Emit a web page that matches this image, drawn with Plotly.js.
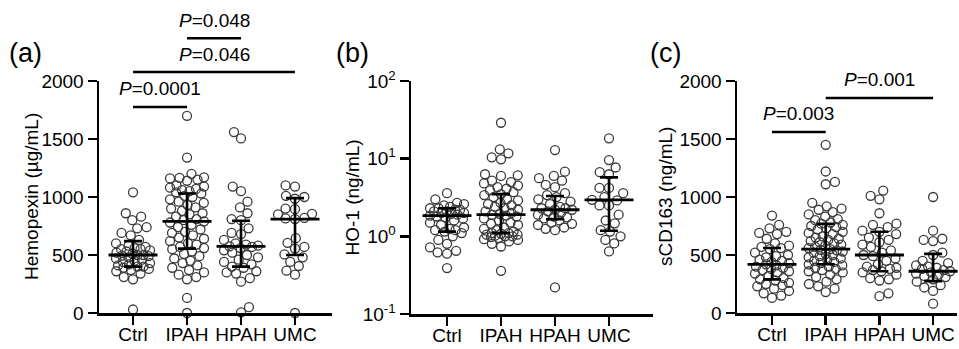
<!DOCTYPE html>
<html>
<head>
<meta charset="utf-8">
<script src="https://cdn.plot.ly/plotly-3.0.1.min.js"></script>
<style>html,body{margin:0;padding:0;background:#fff}#chart{width:959px;height:349px}</style>
</head>
<body>
<div id="chart"></div>
<script>
// ---------- DATA ----------
const categories = ['Ctrl', 'IPAH', 'HPAH', 'UMC'];

// (a) Hemopexin (µg/mL)
const hpxCtrl = [1040, 860, 830, 800, 740, 730, 690, 670, 630, 600, 580, 570, 560, 550, 550, 540, 530, 520, 510, 500, 500, 495, 490, 480, 470, 460, 450, 440, 430, 420, 410, 400, 400, 390, 380, 370, 360, 340, 310, 290, 30];
const hpxIPAH = [1700, 1340, 1200, 1170, 1165, 1160, 1150, 1140, 1100, 1090, 1080, 1070, 1060, 1050, 1040, 1030, 1010, 1000, 980, 960, 950, 930, 910, 900, 880, 860, 850, 830, 810, 800, 790, 780, 760, 740, 720, 700, 690, 670, 650, 640, 620, 600, 590, 570, 560, 550, 530, 510, 490, 470, 450, 430, 410, 390, 370, 350, 330, 310, 290, 130, 0];
const hpxHPAH = [1560, 1505, 1090, 1050, 960, 910, 860, 810, 800, 730, 690, 680, 630, 600, 590, 580, 575, 570, 560, 540, 520, 500, 480, 460, 440, 420, 400, 390, 360, 350, 340, 300, 270, 50, 5];
const hpxUMC = [1100, 1090, 1010, 1000, 985, 900, 895, 855, 850, 820, 815, 810, 645, 605, 570, 555, 505, 480, 440, 405, 365, 330, 0];
const hpxMedian = [500, 790, 575, 810];
const hpxQ1 = [400, 555, 400, 500];
const hpxQ3 = [620, 1030, 795, 990];
const hpxTicks = [0, 500, 1000, 1500, 2000];
const hpxSigPairs = [['Ctrl', 'IPAH'], ['Ctrl', 'UMC'], ['IPAH', 'HPAH']];
const hpxSigP = ['0.0001', '0.046', '0.048'];
const hpxSigLevel = [1776, 2077, 2368];

// (b) HO-1 (ng/mL)
const hoCtrl = [3.6, 3.0, 2.7, 2.6, 2.5, 2.4, 2.3, 2.3, 2.2, 2.2, 2.1, 2.1, 2.0, 2.0, 1.95, 1.9, 1.85, 1.8, 1.75, 1.7, 1.6, 1.5, 1.4, 1.3, 1.25, 1.2, 1.2, 1.15, 1.1, 1.0, 0.9, 0.8, 0.72, 0.65, 0.62, 0.6, 0.39];
const hoIPAH = [29, 13.2, 11.7, 10.4, 9.8, 6.3, 6.1, 6.0, 5.2, 5.0, 4.8, 4.5, 4.3, 4.1, 3.9, 3.7, 3.5, 3.4, 3.2, 3.0, 2.9, 2.7, 2.6, 2.5, 2.4, 2.3, 2.2, 2.1, 2.0, 1.95, 1.9, 1.85, 1.8, 1.7, 1.6, 1.5, 1.45, 1.4, 1.3, 1.25, 1.2, 1.15, 1.1, 1.1, 1.08, 1.05, 1.05, 1.02, 1.0, 1.0, 0.98, 0.95, 0.92, 0.9, 0.86, 0.8, 0.74, 0.36];
const hoHPAH = [12.9, 6.8, 6.0, 5.6, 5.2, 4.6, 4.3, 3.6, 3.4, 3.2, 3.0, 2.8, 2.6, 2.4, 2.3, 2.3, 2.2, 2.2, 2.1, 2.0, 1.9, 1.8, 1.75, 1.7, 1.6, 1.5, 1.45, 1.4, 1.3, 1.25, 1.2, 0.22];
const hoUMC = [18.3, 9.6, 7.7, 6.7, 6.3, 4.2, 4.2, 3.6, 3.2, 2.95, 2.9, 2.5, 2.5, 1.9, 1.6, 1.47, 1.2, 1.15, 1.0, 0.9, 0.81, 0.64];
const hoMedian = [1.85, 1.9, 2.2, 2.95];
const hoQ1 = [1.15, 1.1, 1.66, 1.18];
const hoQ3 = [2.3, 3.5, 3.3, 5.75];
const hoTicks = [0.1, 1, 10, 100];
const hoTickText = ['10<sup>-1</sup>', '10<sup>0</sup>', '10<sup>1</sup>', '10<sup>2</sup>'];

// (c) sCD163 (ng/mL)
const cdCtrl = [840, 760, 730, 700, 690, 680, 640, 600, 580, 570, 560, 550, 520, 500, 490, 480, 460, 450, 440, 430, 420, 410, 400, 390, 380, 370, 360, 350, 340, 320, 300, 290, 280, 260, 250, 240, 230, 210, 190, 170, 150, 130];
const cdIPAH = [1450, 1220, 1130, 1110, 950, 920, 900, 890, 870, 850, 830, 810, 800, 780, 770, 760, 750, 740, 730, 720, 700, 690, 680, 660, 650, 640, 630, 620, 610, 600, 590, 580, 570, 560, 550, 545, 540, 530, 520, 510, 500, 490, 480, 470, 460, 450, 440, 430, 420, 410, 400, 390, 380, 370, 360, 350, 330, 310, 290, 270, 250, 230, 210, 180];
const cdHPAH = [1055, 1010, 980, 860, 770, 760, 740, 710, 700, 680, 650, 630, 610, 590, 570, 540, 520, 500, 490, 470, 450, 420, 400, 390, 380, 370, 360, 350, 330, 300, 290, 280, 170, 145];
const cdUMC = [1000, 710, 640, 630, 620, 520, 500, 450, 430, 410, 400, 390, 380, 370, 360, 350, 340, 330, 320, 310, 290, 270, 240, 220, 190, 80];
const cdMedian = [420, 550, 500, 360];
const cdQ1 = [290, 420, 360, 275];
const cdQ3 = [560, 770, 700, 510];
const cdTicks = [0, 500, 1000, 1500, 2000];
const cdSigPairs = [['Ctrl', 'IPAH'], ['IPAH', 'UMC']];
const cdSigP = ['0.003', '0.001'];
const cdSigLevel = [1561, 1854];

// ---------- LAYOUT GEOMETRY ----------
const W = 959, H = 349;
const FONT = 'Arial, "Liberation Sans", Helvetica, sans-serif';
const MARKER_COLOR = '#3a3a3a';
const DOT = 9.5;   // preferred min centre distance (px)
const CAP = 17;    // max half-width of a swarm (px)

const panels = [
  { label: '(a)', labelX: 25, title: 'Hemopexin (µg/mL)', titleX: 31,
    px: [99, 332], py: [81, 313], xr: [-0.63, 3.685], type: 'linear', yr: [0, 2000],
    groups: [hpxCtrl, hpxIPAH, hpxHPAH, hpxUMC], med: hpxMedian, q1: hpxQ1, q3: hpxQ3,
    ticks: hpxTicks, tickText: null, sig: { pairs: hpxSigPairs, p: hpxSigP, lvl: hpxSigLevel } },
  { label: '(b)', labelX: 352, title: 'HO-1 (ng/mL)', titleX: 352,
    px: [411, 653], py: [81, 314], xr: [-0.667, 3.815], type: 'log', yr: [-1, 2],
    groups: [hoCtrl, hoIPAH, hoHPAH, hoUMC], med: hoMedian, q1: hoQ1, q3: hoQ3,
    ticks: hoTicks, tickText: hoTickText, sig: null },
  { label: '(c)', labelX: 665, title: 'sCD163 (ng/mL)', titleX: 665,
    px: [737, 957], py: [81, 313], xr: [-0.652, 3.445], type: 'linear', yr: [0, 2000],
    groups: [cdCtrl, cdIPAH, cdHPAH, cdUMC], med: cdMedian, q1: cdQ1, q3: cdQ3,
    ticks: cdTicks, tickText: null, sig: { pairs: cdSigPairs, p: cdSigP, lvl: cdSigLevel } }
];

// beeswarm offsets computed from the values (category units)
function swarm(vals, toPx, pxPerX) {
  const pts = vals.map((v, i) => ({ y: toPx(v), i })).sort((a, b) => a.y - b.y);
  const placed = [];
  const offs = new Array(vals.length).fill(0);
  let flip = 1;
  const minDist = (c, y) => {
    let m = Infinity;
    for (const q of placed) {
      const d = Math.hypot(q.x - c, q.y - y);
      if (d < m) m = d;
    }
    return m;
  };
  for (const p of pts) {
    const cands = [0];
    for (const q of placed) {
      const dy = p.y - q.y;
      if (Math.abs(dy) < DOT) {
        const dx = Math.sqrt(DOT * DOT - dy * dy);
        cands.push(q.x + dx + 1e-6, q.x - dx - 1e-6);
      }
    }
    const ok = cands.filter(c => Math.abs(c) <= CAP)
      .sort((a, b) => (Math.abs(a) - Math.abs(b)) || (flip * (a - b)));
    let best = null;
    for (const c of ok) {
      if (minDist(c, p.y) >= DOT - 1e-3) { best = c; break; }
    }
    if (best === null) {
      let bestScore = -1;
      for (let c = -CAP; c <= CAP + 1e-9; c += 0.5) {
        const s = minDist(c, p.y) - 0.02 * Math.abs(c);
        if (s > bestScore) { bestScore = s; best = c; }
      }
    }
    flip = -flip;
    placed.push({ x: best, y: p.y });
    offs[p.i] = best / pxPerX;
  }
  return offs;
}

const data = [];
const layout = {
  width: W, height: H, margin: { l: 0, r: 0, t: 0, b: 0 },
  paper_bgcolor: '#fff', plot_bgcolor: 'rgba(0,0,0,0)',
  showlegend: false, font: { family: FONT, color: '#000', size: 19 },
  shapes: [], annotations: []
};

panels.forEach((pn, k) => {
  const n = k + 1;
  const xa = 'xaxis' + (n === 1 ? '' : n), ya = 'yaxis' + (n === 1 ? '' : n);
  const xr = 'x' + (n === 1 ? '' : n), yr = 'y' + (n === 1 ? '' : n);
  const yd = [1 - pn.py[1] / H, 1 - pn.py[0] / H];
  const pxPerX = (pn.px[1] - pn.px[0]) / (pn.xr[1] - pn.xr[0]);
  const plotH = pn.py[1] - pn.py[0];
  const toPx = pn.type === 'log'
    ? v => Math.log10(v) / (pn.yr[1] - pn.yr[0]) * plotH
    : v => v / (pn.yr[1] - pn.yr[0]) * plotH;

  layout[xa] = {
    domain: [pn.px[0] / W, pn.px[1] / W], range: pn.xr, anchor: yr,
    tickvals: categories.map((c, i) => i), ticktext: categories,
    showline: true, linewidth: 2.5, linecolor: '#000',
    ticks: 'outside', ticklen: 9, tickwidth: 2.5, tickcolor: '#000', ticklabelstandoff: -6,
    showgrid: false, zeroline: false, fixedrange: true,
    tickfont: { family: FONT, size: 19, color: '#000' }
  };
  layout[ya] = {
    domain: yd, type: pn.type, range: pn.yr, anchor: xr,
    tickvals: pn.ticks, showline: true, linewidth: 2.5, linecolor: '#000',
    ticks: 'outside', ticklen: 9, tickwidth: 2.5, tickcolor: '#000',
    showgrid: false, zeroline: false, fixedrange: true,
    tickfont: { family: FONT, size: 19, color: '#000' }
  };
  if (pn.tickText) layout[ya].ticktext = pn.tickText;

  // axis title (vertical)
  layout.annotations.push({
    text: pn.title, xref: 'paper', yref: 'paper', x: pn.titleX / W, y: (yd[0] + yd[1]) / 2,
    xanchor: 'center', yanchor: 'middle', textangle: -90, showarrow: false,
    font: { family: FONT, size: 19, color: '#000' }
  });

  // dots
  const xs = [], ys = [];
  pn.groups.forEach((g, gi) => {
    const offs = swarm(g, toPx, pxPerX);
    g.forEach((v, i) => { xs.push(gi + offs[i]); ys.push(v); });
  });
  data.push({
    type: 'scatter', mode: 'markers', x: xs, y: ys, xaxis: xr, yaxis: yr,
    cliponaxis: false, hoverinfo: 'skip',
    marker: { symbol: 'circle-open', size: 9, color: MARKER_COLOR, line: { width: 1.3, color: MARKER_COLOR } }
  });
  // median + IQR
  data.push({
    type: 'scatter', mode: 'markers', x: categories.map((c, i) => i), y: pn.med, xaxis: xr, yaxis: yr,
    cliponaxis: false, hoverinfo: 'skip',
    marker: { symbol: 'line-ew', size: 35, color: '#000', line: { width: 2.8, color: '#000' } },
    error_y: { type: 'data', symmetric: false,
      array: pn.q3.map((q, i) => q - pn.med[i]), arrayminus: pn.med.map((m, i) => m - pn.q1[i]),
      width: 9, thickness: 2.6, color: '#000' }
  });

  // panel label
  layout.annotations.push({
    text: pn.label, xref: 'paper', yref: 'paper', x: pn.labelX / W, y: 1 - 53 / H,
    xanchor: 'center', yanchor: 'middle', showarrow: false,
    font: { family: FONT, size: 27, color: '#000' }
  });

  // significance bars
  if (pn.sig) {
    pn.sig.pairs.forEach((pr, si) => {
      const a = categories.indexOf(pr[0]), b = categories.indexOf(pr[1]);
      const yp = yd[0] + (pn.sig.lvl[si] - pn.yr[0]) / (pn.yr[1] - pn.yr[0]) * (yd[1] - yd[0]);
      layout.shapes.push({
        type: 'line', xref: xr, yref: 'paper', x0: a, x1: b, y0: yp, y1: yp,
        line: { color: '#000', width: 2.5 }
      });
      layout.annotations.push({
        text: '<i>P</i>=' + pn.sig.p[si], xref: xr, yref: 'paper', x: (a + b) / 2, y: yp,
        xanchor: 'center', yanchor: 'middle', yshift: 18, showarrow: false,
        font: { family: FONT, size: 19, color: '#000' }
      });
    });
  }
});

Plotly.newPlot('chart', data, layout, { staticPlot: true, displayModeBar: false });
</script>
</body>
</html>
